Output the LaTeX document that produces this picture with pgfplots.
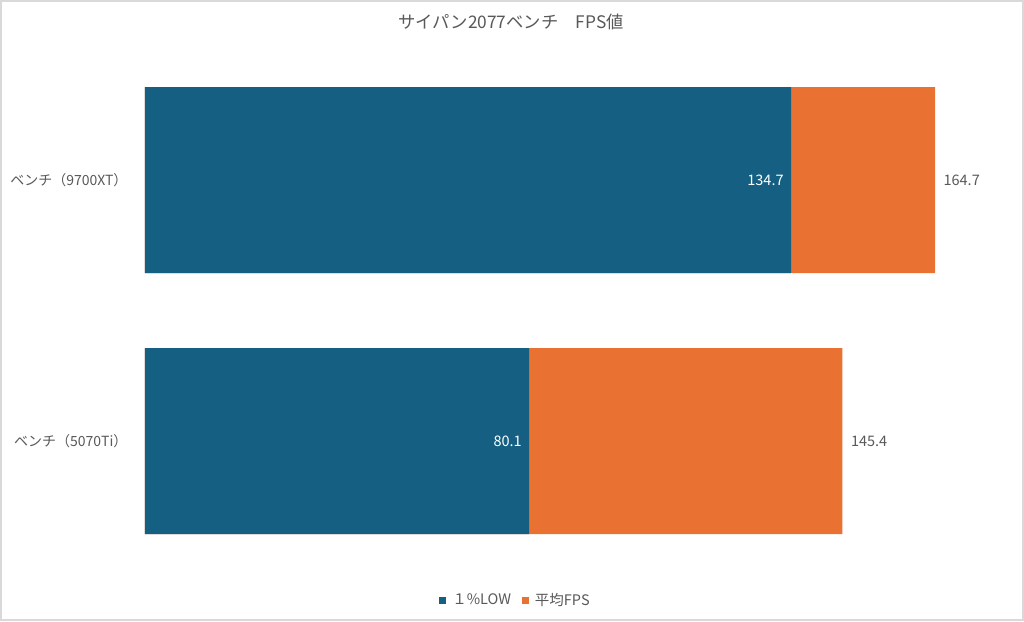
\documentclass[border=0pt]{standalone}
\usepackage{pgfplots}
\pgfplotsset{compat=1.18}
\usepackage{fontspec}
\setmainfont{Noto Sans CJK JP}
\definecolor{cblue}{HTML}{156082}
\definecolor{corange}{HTML}{E97132}
\definecolor{ctext}{HTML}{595959}
\begin{document}
\begin{tikzpicture}[x=1pt,y=1pt]
\useasboundingbox (-145,-61) rectangle (879,560);
\fill[white] (-145,-61) rectangle (879,560);
\draw[gray!30, line width=2pt] (-144,-60) rectangle (878,559);
\begin{axis}[at={(0,0)}, anchor=south west, scale only axis,
  width=795pt, height=500pt,
  xmin=0, xmax=165.73, ymin=-0.4559, ymax=1.4598,
  xbar, bar width=186pt, bar shift=0pt,
  axis line style={draw=none}, xtick=\empty,
  ytick={0,1}, yticklabels={ベンチ（5070Ti）,ベンチ（9700XT）},
  major tick length=0pt,
  yticklabel style={font=\fontsize{14}{16}\selectfont, text=ctext, xshift=-14pt},
  clip=false,
  /pgf/number format/.cd, fixed, precision=1, fixed zerofill, assume math mode=true, /pgfplots/.cd,
  legend image code/.code={\fill[#1,draw=none] (0pt,-3.5pt) rectangle (7pt,3.5pt);},
  legend style={at={(0.466,-0.08)}, anchor=center, draw=none, fill=none, legend columns=2,
    font=\fontsize{14.5}{16}\selectfont, text=ctext,
    /tikz/every odd column/.style={column sep=4pt},
    /tikz/every even column/.style={column sep=9pt}},
]
\addlegendimage{fill=cblue}
\addlegendentry{１\%LOW}
\addlegendimage{fill=corange}
\addlegendentry{平均FPS}
\addplot[fill=corange, draw=none, forget plot, nodes near coords,
  every node near coord/.style={anchor=west, xshift=5pt, text=ctext, font=\fontsize{14.5}{16}\selectfont}]
  coordinates {(164.7,1) (145.4,0)};
\addplot[fill=cblue, draw=none, forget plot, nodes near coords,
  every node near coord/.style={anchor=east, xshift=-4pt, text=white, font=\fontsize{14.5}{16}\selectfont}]
  coordinates {(134.7,1) (80.1,0)};
\end{axis}
\node[text=ctext, font=\fontsize{17.3}{20}\selectfont] at (366,538) {サイパン2077ベンチ　FPS値};
\end{tikzpicture}
\end{document}
